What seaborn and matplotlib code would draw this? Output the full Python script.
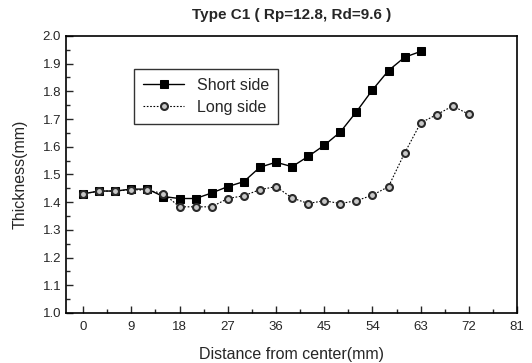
import matplotlib
matplotlib.use("Agg")
import matplotlib.pyplot as plt
from matplotlib.ticker import MultipleLocator
import pandas as pd
import seaborn as sns

sns.set_style("ticks")
plt.rcParams["font.family"] = ["Liberation Sans", "DejaVu Sans"]

short_x = [0, 3, 6, 9, 12, 15, 18, 21, 24, 27, 30, 33, 36, 39, 42, 45, 48, 51, 54, 57, 60, 63]
short_y = [1.43, 1.44, 1.44, 1.447, 1.447, 1.42, 1.413, 1.413, 1.433, 1.456, 1.474, 1.526,
           1.544, 1.528, 1.565, 1.605, 1.653, 1.726, 1.805, 1.875, 1.923, 1.944]

long_x = [0, 3, 6, 9, 12, 15, 18, 21, 24, 27, 30, 33, 36, 39, 42, 45, 48, 51, 54, 57, 60, 63, 66, 69, 72]
long_y = [1.43, 1.44, 1.44, 1.445, 1.443, 1.431, 1.383, 1.383, 1.383, 1.413, 1.423, 1.445,
          1.456, 1.415, 1.395, 1.405, 1.395, 1.405, 1.425, 1.456, 1.577, 1.686, 1.716, 1.747, 1.717]

short_df = pd.DataFrame({"x": short_x, "y": short_y})
long_df = pd.DataFrame({"x": long_x, "y": long_y})

fig = plt.figure(figsize=(5.32, 3.63), dpi=100)
ax = fig.add_axes([0.124, 0.138, 0.848, 0.763])

sns.lineplot(data=short_df, x="x", y="y", ax=ax, color="black", linewidth=1.0,
             marker="s", markersize=6, markeredgecolor="black", markerfacecolor="black",
             label="Short side")
sns.lineplot(data=long_df, x="x", y="y", ax=ax, color="black", linewidth=0.8,
             linestyle=(0, (1.5, 1.5)), marker="o", markersize=5, markeredgewidth=1.5,
             markeredgecolor="#2a2a2a", markerfacecolor="#c8c8c8", label="Long side")

ax.set_xlim(-3.2, 81)
ax.set_ylim(1.0, 2.0)
ax.xaxis.set_major_locator(MultipleLocator(9))
ax.xaxis.set_minor_locator(MultipleLocator(4.5))
ax.yaxis.set_major_locator(MultipleLocator(0.1))
ax.yaxis.set_minor_locator(MultipleLocator(0.05))
ax.tick_params(which="both", direction="in", top=False, right=False, labelsize=9.5)
ax.tick_params(which="major", length=5, width=1.0)
ax.tick_params(which="minor", length=3, width=1.0)
ax.tick_params(axis="x", pad=6)
ax.yaxis.set_major_formatter(matplotlib.ticker.FormatStrFormatter("%.1f"))
for s in ax.spines.values():
    s.set_linewidth(1.2)
    s.set_color("black")

ax.set_xlabel("Distance from center(mm)", fontsize=11.5, labelpad=10)
ax.set_ylabel("Thickness(mm)", fontsize=11.5, labelpad=11)
ax.set_title("Type C1 ( Rp=12.8, Rd=9.6 )", fontsize=11, fontweight="bold", pad=12)

leg = ax.legend(loc="upper left", bbox_to_anchor=(0.151, 0.881), borderaxespad=0,
                fontsize=11.5, frameon=True, fancybox=False, edgecolor="black",
                borderpad=0.55, handlelength=2.6, labelspacing=0.45)
leg.get_frame().set_linewidth(1.0)

fig.savefig("out.png", dpi=100)
